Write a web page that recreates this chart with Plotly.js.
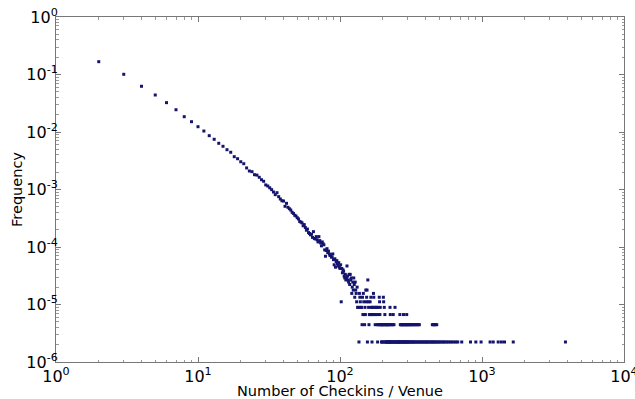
<!DOCTYPE html>
<html>
<head>
<meta charset="utf-8">
<script src="https://cdn.plot.ly/plotly-3.0.1.min.js"></script>
<style>html,body{margin:0;padding:0;background:#fff;}#chart{width:635px;height:399px;}</style>
</head>
<body>
<div id="chart"></div>
<script>
// total number of venues (frequency = venues with k checkins / total)
const TOTAL_VENUES = 448800;

// checkins per venue 2..129, one venue-count each
const headCheckins = [2,3,4,5,6,7,8,9,10,11,12,13,14,15,16,17,18,19,20,21,22,23,24,25,26,27,28,29,30,31,32,33,34,35,36,37,38,39,40,41,42,43,44,45,
  46,47,48,49,50,51,52,53,54,55,56,57,58,59,60,61,62,63,64,65,66,67,68,69,70,71,72,73,74,75,76,77,78,79,80,81,82,83,84,85,86,87,88,89,90,
  91,92,93,94,95,96,97,98,99,100,101,102,103,104,105,106,107,108,109,110,111,112,113,114,115,116,117,118,119,120,121,122,123,124,125,126,127,128,129];
const headVenues = [74950,45240,28000,19750,14540,10950,8285,6777,5547,4668,3873,3353,2854,2531,2208,1993,1670,1539,1364,1261,1064,942,916,812,799,732,664,624,539,516,480,446,406,365,395,337,307,286,283,229,258,220,208,197,
  180,172,160,155,145,138,125,122,118,105,110,98,88,92,80,77,73,75,66,83,63,62,68,60,55,68,58,53,47,55,51,49,40,31,39,42,36,38,34,32,33,30,30,34,27,
  22,28,20,25,26,23,21,24,20,19,22,5,19,16,18,17,14,13,15,12,13,21,14,12,11,15,10,15,12,13,7,9,11,8,13,10,6,11,8];

// tail: checkin values that occur for exactly n venues
const twelveVenues = [157];
const nineVenues = [132];
const eightVenues = [152,155];
const sevenVenues = [130,137,146,172];
const sixVenues = [138,144,154,165,173,189,202];
const fiveVenues = [131,139,147,153,158,163,190,203];
const fourVenues = [133,135,140,142,150,159,166,169,171,176,180,181,186,192,205,225,244];
const threeVenues = [145,148,151,161,164,167,170,175,179,185,191,207,226,237,264,280,295];
const twoVenues = [143,149,160,177,183,187,188,193,195,197,199,201,204,208,210,213,215,217,221,223,228,232,235,240,
  266,270,272,275,278,283,286,290,293,297,300,304,309,313,318,322,327,333,338,344,350,356,362,447,455,462,470,480];
const oneVenue = [136,156,168,184,196,198,200,206,209,211,214,216,218,220,222,224,227,229,231,234,236,239,242,246,248,251,253,256,258,261,263,
  267,269,273,276,279,282,285,288,292,296,299,302,306,311,315,320,325,330,335,341,347,353,359,366,372,378,385,392,399,406,414,421,430,438,446,
  453,461,471,481,490,500,512,525,537,550,565,580,598,615,635,655,675,720,830,905,985,1140,1200,1300,1370,1440,1660,3870];

const xTickVals = [1,10,100,1000,10000];
const xTickText = ['10<sup>0</sup>','10<sup>1</sup>','10<sup>2</sup>','10<sup>3</sup>','10<sup>4</sup>'];
const yTickVals = [1e-6,1e-5,1e-4,1e-3,1e-2,1e-1,1];
const yTickText = ['10<sup>-6</sup>','10<sup>-5</sup>','10<sup>-4</sup>','10<sup>-3</sup>','10<sup>-2</sup>','10<sup>-1</sup>','10<sup>0</sup>'];

const xs = [], ys = [];
headCheckins.forEach((k,i)=>{xs.push(k); ys.push(headVenues[i]/TOTAL_VENUES);});
[[twelveVenues,12],[nineVenues,9],[eightVenues,8],[sevenVenues,7],[sixVenues,6],[fiveVenues,5],[fourVenues,4],[threeVenues,3],[twoVenues,2],[oneVenue,1]]
  .forEach(([arr,n])=>arr.forEach(k=>{xs.push(k); ys.push(n/TOTAL_VENUES);}));

const axisCommon = {
  type:'log', showgrid:false, zeroline:false, showline:true, linecolor:'#777', linewidth:1, mirror:'allticks',
  ticks:'inside', ticklen:5, tickcolor:'#777', tickwidth:1,
  minor:{ticks:'inside', ticklen:2.5, tickcolor:'#999', tickwidth:1, dtick:'D1'},
  tickfont:{family:'DejaVu Sans', size:16, color:'#000'}, tickmode:'array', ticklabeloverflow:'allow'
};

const layout = {
  width:635, height:399,
  margin:{l:56, r:11, t:17, b:37, pad:0},
  paper_bgcolor:'#fff', plot_bgcolor:'#fff', showlegend:false,
  xaxis:Object.assign({}, axisCommon, {range:[0,4], tickvals:xTickVals, ticktext:xTickText,
    title:{text:'Number of Checkins / Venue', font:{family:'DejaVu Sans', size:14.5, color:'#000'}, standoff:0}}),
  yaxis:Object.assign({}, axisCommon, {range:[-6,0], tickvals:yTickVals, ticktext:yTickText, ticklabelstandoff:-6,
    title:{text:'Frequency', font:{family:'DejaVu Sans', size:14.5, color:'#000'}, standoff:0}})
};

Plotly.newPlot('chart', [{
  type:'scatter', mode:'markers', x:xs, y:ys,
  marker:{symbol:'square', size:3, color:'#14146e', line:{width:0}}, cliponaxis:true, hoverinfo:'skip'
}], layout, {staticPlot:true, displayModeBar:false});
</script>
</body>
</html>
